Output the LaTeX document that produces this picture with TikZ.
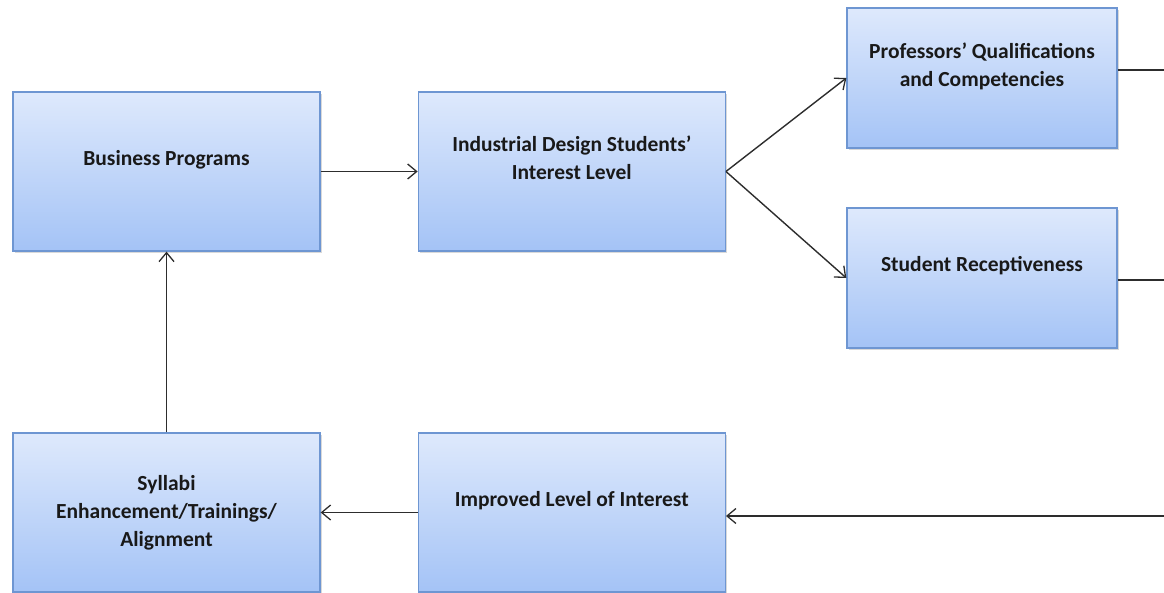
\documentclass[tikz,border=0pt]{standalone}
\usepackage{fontspec}
\setmainfont{Carlito}
\usepackage{tikz}
\usetikzlibrary{arrows.meta, positioning, shadows}

\definecolor{boxtop}{RGB}{222,233,252}
\definecolor{boxbot}{RGB}{164,195,246}
\definecolor{boxline}{RGB}{110,150,210}
\definecolor{flowline}{RGB}{45,45,45}

\tikzset{
  bigbox/.style={draw=boxline, line width=1.3pt, top color=boxtop, bottom color=boxbot,
    minimum width=307pt, minimum height=159pt, inner sep=0pt,
    drop shadow={shadow xshift=2pt, shadow yshift=-2pt, opacity=0.3}},
  smallbox/.style={bigbox, minimum width=270pt, minimum height=140pt},
  boxtext/.style={align=center, font=\fontsize{21.5}{28}\selectfont\bfseries, text=black!90},
  flow/.style={draw=flowline, line width=1.4pt, -{Straight Barb[length=9pt, width=15pt, line width=1.3pt]}}
}

\begin{document}
\begin{tikzpicture}[x=1pt, y=-1pt]
      \useasboundingbox (0,0) rectangle (1164,593);

      % boxes of the loop
      \node[bigbox] (bp) at (166.5,171.5) {};
      \node[bigbox, right=97pt of bp] (idl) {};
      \node[smallbox] (prof) at (982,78) {};
      \node[smallbox] (sr) at (982,278) {};
      \node[bigbox] (syl) at (166.5,512.5) {};
      \node[bigbox, right=97pt of syl] (imp) {};

      % box texts, set a bit above centre
      \node[boxtext] (bpt) at ([yshift=12pt]bp.center) {Business Programs};
      \node[boxtext] (idlt) at ([yshift=14pt]idl.center) {Industrial Design Students'\\Interest Level};
      \node[boxtext] (proft) at ([yshift=12pt]prof.center) {Professors' Qualifications\\and Competencies};
      \node[boxtext] (srt) at ([yshift=12pt]sr.center) {Student Receptiveness};
      \node[boxtext] (sylt) at (syl.center) {Syllabi\\Enhancement/Trainings/\\Alignment};
      \node[boxtext] (impt) at ([yshift=12pt]imp.center) {Improved Level of Interest};

      % loop leaves and re-enters at the right edge
      \coordinate (pe) at (1164,70);
      \coordinate (se) at (1164,280);
      \coordinate (re) at (1164,516);

      \draw[flow] (bp.east) -- (idl.west);
      \draw[flow] (idl.east) -- (prof.west);
      \draw[flow] (idl.east) -- (sr.west);
      \draw[flow, -] (prof.east |- pe) -- (pe);
      \draw[flow, -] (sr.east |- se) -- (se);
      \draw[flow] (re) -- (re -| imp.east);
      \draw[flow] (imp.west) -- (syl.east);
      \draw[flow] (syl.north) -- (bp.south);
\end{tikzpicture}
\end{document}
